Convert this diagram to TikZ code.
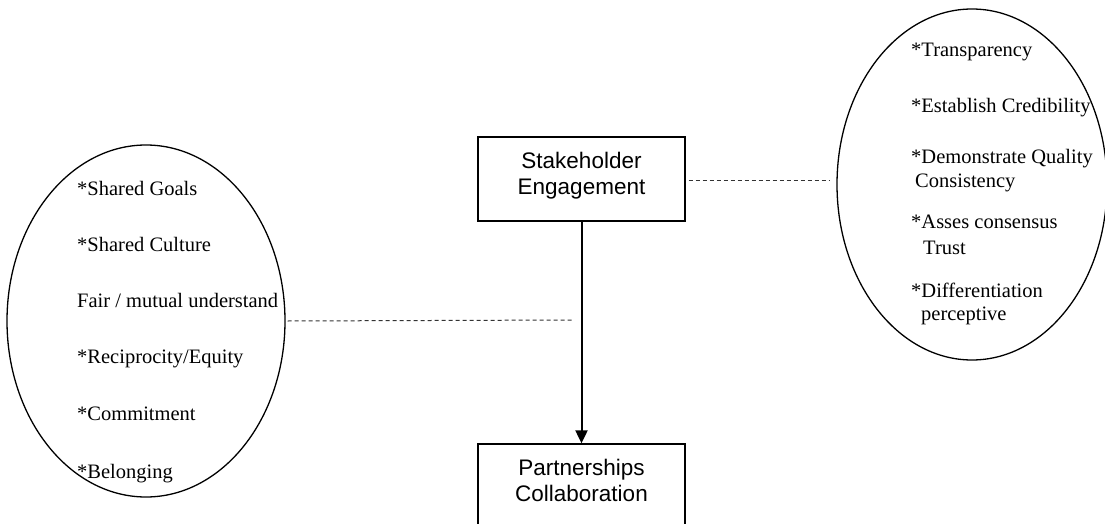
\documentclass[tikz,border=0pt]{standalone}
\usepackage{fontspec}
\setmainfont{Liberation Serif}
\newfontfamily\boxfont{Liberation Sans}
\usetikzlibrary{arrows.meta,shapes.geometric}

\begin{document}
\begin{tikzpicture}[x=1pt,y=-1pt,
  oval/.style={draw,line width=1.3pt,ellipse,inner sep=0pt},
  stagebox/.style={draw,line width=1.3pt,rectangle,inner sep=0pt},
  item/.style={anchor=base west,inner sep=0pt,font=\fontsize{20.5}{24}\selectfont},
  boxtext/.style={align=center,inner sep=0pt,font=\boxfont\fontsize{22.5}{26}\selectfont},
  link/.style={dash pattern=on 4pt off 3pt,line width=1pt,draw=black!80},
  flow/.style={line width=2pt,-{Triangle[width=12pt,length=13pt]}}]
\useasboundingbox (0,0) rectangle (1105,524);
\clip (0,0) rectangle (1105,524);

% the two clusters of factors
\node[oval,minimum width=278pt,minimum height=352pt] (left) at (146,321) {};
\node[oval,minimum width=270pt,minimum height=351pt] (right) at (972,184.5) {};

% the two stages
\node[stagebox,minimum width=207pt,minimum height=84pt] (stake) at (581.5,179) {};
\node[boxtext] (staketext) at (581.5,175.5) {Stakeholder\\Engagement};
\node[stagebox,minimum width=207pt,minimum height=110pt] (partner) at (581.5,499) {};
\node[boxtext] (partnertext) at (581.5,480.5) {Partnerships\\Collaboration};

% factors on the left
\node[item] (l1) at (77,195) {*Shared Goals};
\node[item] (l2) at (77,251) {*Shared Culture};
\node[item] (l3) at (77,307) {Fair / mutual understand};
\node[item] (l4) at (77,363) {*Reciprocity/Equity};
\node[item] (l5) at (77,420) {*Commitment};
\node[item] (l6) at (77,478) {*Belonging};

% factors on the right
\node[item] (r1) at (911,57) {*Transparency};
\node[item] (r2) at (911,113) {*Establish Credibility};
\node[item] (r3) at (911,163) {*Demonstrate Quality};
\node[item] (r3b) at (915,187) {Consistency};
\node[item] (r4) at (911,228) {*Asses consensus};
\node[item] (r4b) at (923,254) {Trust};
\node[item] (r5) at (911,297) {*Differentiation};
\node[item] (r5b) at (921,320) {perceptive};

% connectors
\coordinate (leftend) at (573,320);
\draw[link] ([xshift=2pt]left.east) -- (leftend);
\draw[link] ([xshift=3pt,yshift=-1pt]stake.east) -- ([xshift=-6pt,yshift=-1pt]stake.east -| right.west);
\draw[flow] (stake.south) -- (partner.north);
\end{tikzpicture}
\end{document}
